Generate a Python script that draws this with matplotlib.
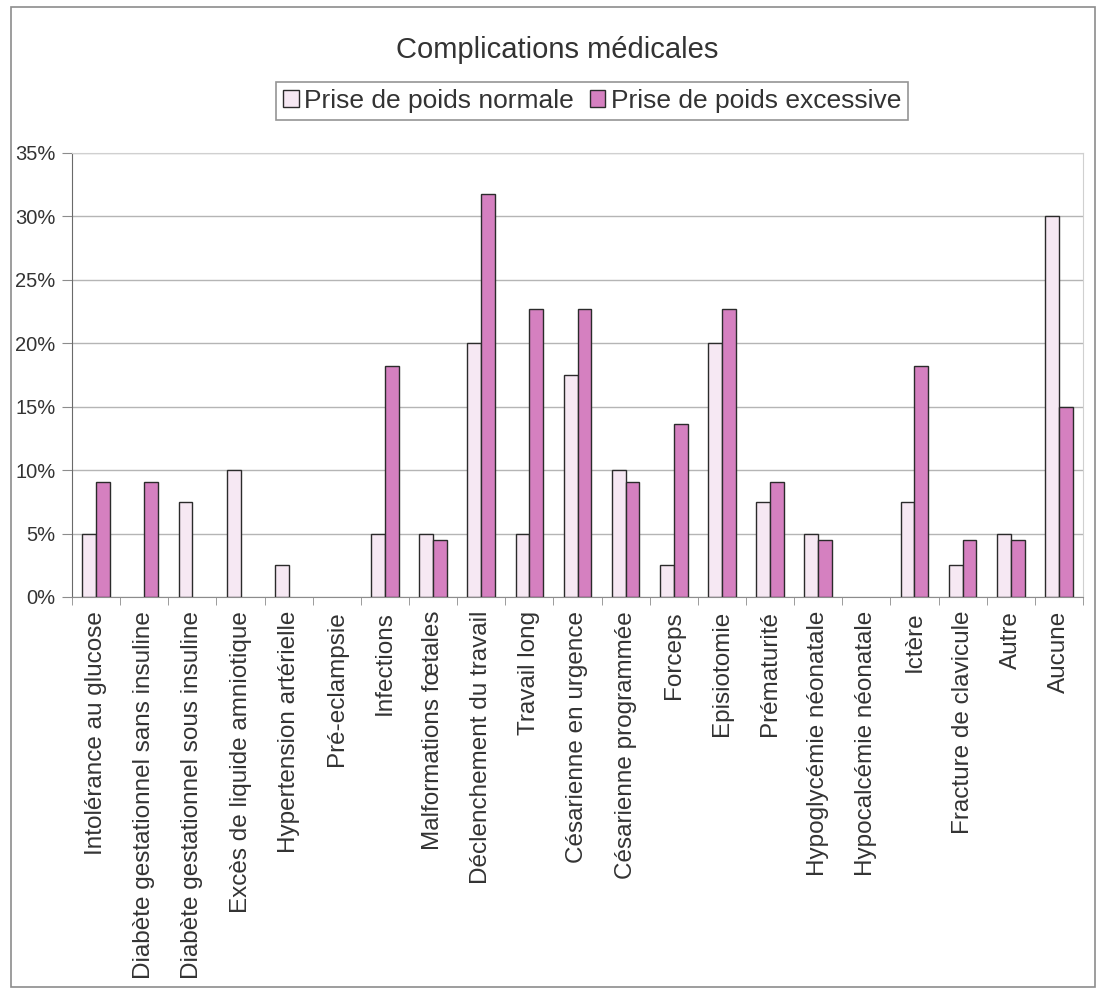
#!/usr/bin/env python3
"""Complications médicales : prise de poids normale vs excessive."""

import matplotlib
matplotlib.use("Agg")
import matplotlib.pyplot as plt
import numpy as np
from matplotlib.patches import Rectangle
from matplotlib.ticker import FixedLocator, PercentFormatter

plt.rcParams["font.family"] = ["Liberation Sans", "DejaVu Sans"]

# ───────────── données ─────────────
categories = [
    "Intolérance au glucose",
    "Diabète gestationnel sans insuline",
    "Diabète gestationnel sous insuline",
    "Excès de liquide amniotique",
    "Hypertension artérielle",
    "Pré-eclampsie",
    "Infections",
    "Malformations fœtales",
    "Déclenchement du travail",
    "Travail long",
    "Césarienne en urgence",
    "Césarienne programmée",
    "Forceps",
    "Episiotomie",
    "Prématurité",
    "Hypoglycémie néonatale",
    "Hypocalcémie néonatale",
    "Ictère",
    "Fracture de clavicule",
    "Autre",
    "Aucune",
]
normale = [5.0, 0.0, 7.5, 10.0, 2.5, 0.0, 5.0, 5.0, 20.0, 5.0, 17.5,
           10.0, 2.5, 20.0, 7.5, 5.0, 0.0, 7.5, 2.5, 5.0, 30.0]
excessive = [9.1, 9.1, 0.0, 0.0, 0.0, 0.0, 18.2, 4.5, 31.8, 22.7, 22.7,
             9.1, 13.6, 22.7, 9.1, 4.5, 0.0, 18.2, 4.5, 4.5, 15.0]
series_labels = ["Prise de poids normale", "Prise de poids excessive"]
y_ticks = [0, 5, 10, 15, 20, 25, 30, 35]
# ────────────────────────────────────

TXT = "#333333"
C_NORM = "#F6E8F3"
C_EXC = "#D580C0"

fig = plt.figure(figsize=(10.99, 9.90), dpi=100)
fig.patch.set_facecolor("white")

# cadre du graphique
fig.add_artist(Rectangle((11 / 1099, 1 - 987 / 990), 1084 / 1099, 980 / 990,
                         transform=fig.transFigure, fill=False,
                         edgecolor="#8c8c8c", linewidth=1.2))

ax = fig.add_axes([72 / 1099, 1 - 597 / 990, (1083 - 72) / 1099, (597 - 153) / 990])

x = np.arange(len(categories))
w = 1 / 3.5
# barres nulles : pas de contour (invisibles comme dans Excel)
lw_n = [1.0 if v > 0 else 0.0 for v in normale]
lw_e = [1.0 if v > 0 else 0.0 for v in excessive]
ax.bar(x - w / 2, normale, w, color=C_NORM, edgecolor="#2b2b2b", linewidth=lw_n,
       label=series_labels[0], zorder=3)
ax.bar(x + w / 2, excessive, w, color=C_EXC, edgecolor="#2b2b2b", linewidth=lw_e,
       label=series_labels[1], zorder=3)

ax.set_xlim(-0.5, len(categories) - 0.5)
ax.set_ylim(0, 35)
ax.set_yticks(y_ticks)
ax.yaxis.set_major_formatter(PercentFormatter(decimals=0))
ax.grid(axis="y", color="#b5b5b5", linewidth=1.0, zorder=0)

ax.set_xticks(x)
ax.set_xticklabels(categories, rotation=90, va="top", ha="center",
                   fontsize=17.5, color=TXT)
ax.xaxis.set_minor_locator(FixedLocator(np.arange(-0.5, len(categories), 1.0)))
ax.tick_params(axis="x", which="major", length=0, pad=10)
ax.tick_params(axis="x", which="minor", length=6, color="#8c8c8c")
ax.tick_params(axis="y", length=7, color="#8c8c8c", labelsize=14.5,
               labelcolor=TXT, pad=5)

for side in ("top", "right"):
    ax.spines[side].set_color("#d0d0d0")
ax.spines["left"].set_color("#6a6a6a")
ax.spines["bottom"].set_color("#8c8c8c")

fig.text(557 / 1099, 1 - 50 / 990, "Complications médicales", ha="center",
         va="center", fontsize=21, color=TXT)

leg = ax.legend(loc="center", bbox_to_anchor=(592 / 1099, 1 - 101 / 990),
                bbox_transform=fig.transFigure, ncol=2, fontsize=19,
                frameon=True, fancybox=False, edgecolor="#7a7a7a",
                handlelength=0.6, handleheight=0.6, handletextpad=0.2,
                columnspacing=0.6, borderpad=0.25, labelcolor=TXT)
leg.get_frame().set_linewidth(1.2)

fig.savefig("out.png", dpi=100)
